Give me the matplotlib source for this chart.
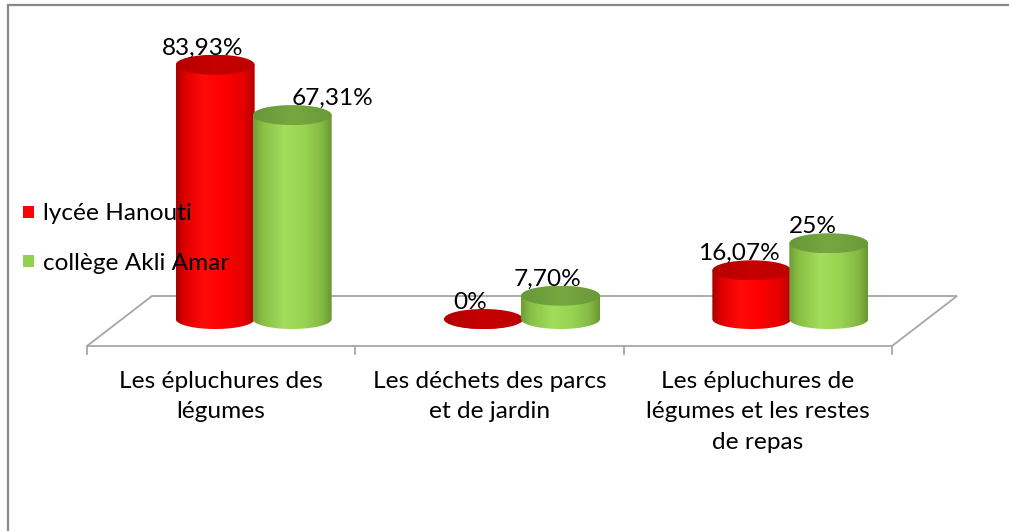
import numpy as np
import matplotlib
matplotlib.use("Agg")
import matplotlib.pyplot as plt
from matplotlib.patches import Ellipse, PathPatch, Polygon
from matplotlib.path import Path
from matplotlib.colors import LinearSegmentedColormap

# ---------------- data ----------------
categories = ["Les épluchures des\nlégumes",
              "Les déchets des parcs\net de jardin",
              "Les épluchures de\nlégumes et les restes\nde repas"]
series_names = ["lycée Hanouti", "collège Akli Amar"]
lycee = [83.93, 0.0, 16.07]
college = [67.31, 7.70, 25.0]
labels_lycee = ["83,93%", "0%", "16,07%"]
labels_college = ["67,31%", "7,70%", "25%"]

# ---------------- layout / style ----------------
W, H = 1009, 531
FONT = ["Lato", "DejaVu Sans"]
FS = 17.6
plt.rcParams['font.family'] = FONT

fig = plt.figure(figsize=(W / 100, H / 100), dpi=100)
ax = fig.add_axes([0, 0, 1, 1])
ax.set_xlim(0, W)
ax.set_ylim(H, 0)
ax.axis('off')

# chart frame (left and top edges visible)
ax.plot([7.5, 7.5, W + 5], [H + 5, 4.5, 4.5], color="#888888", lw=1.6,
        solid_joinstyle='miter', zorder=1)

# floor (oblique parallelogram)
fx0, fx1, fy_front = 87, 892, 346
shift_x, shift_y = 65, -50
floor = Polygon([[fx0, fy_front], [fx1, fy_front],
                 [fx1 + shift_x, fy_front + shift_y], [fx0 + shift_x, fy_front + shift_y]],
                closed=True, facecolor="white", edgecolor="#a6a6a6", lw=1.3, zorder=2)
ax.add_patch(floor)
ncat = len(categories)
step = (fx1 - fx0) / ncat
for k in range(ncat + 1):
    xt = fx0 + k * step
    ax.plot([xt, xt], [fy_front, fy_front + 8], color="#a6a6a6", lw=1.3, zorder=2)

# cylinder geometry
scale = 3.03          # pixels per percent
base_y = fy_front + shift_y / 2 - 2
rx, ry = 39.5, 10
half_gap = 38.5

red_body = LinearSegmentedColormap.from_list(
    "rb", [(0, "#a80000"), (0.12, "#e00000"), (0.35, "#ff0a0a"), (0.6, "#ff0000"),
           (0.85, "#e40000"), (1, "#b80000")])
green_body = LinearSegmentedColormap.from_list(
    "gb", [(0, "#6f9c35"), (0.12, "#88c046"), (0.4, "#a2dd5c"), (0.65, "#98d452"),
           (0.88, "#84b944"), (1, "#6a9632")])
red_top = LinearSegmentedColormap.from_list("rt", ["#b40000", "#c60000", "#bc0000"])
green_top = LinearSegmentedColormap.from_list("gt", ["#67973a", "#76a740", "#6a9a38"])

grad = np.linspace(0, 1, 256).reshape(1, -1)


def cylinder(cx, value, cmap_body, cmap_top, z):
    top_y = base_y - value * scale
    t = np.linspace(0, np.pi, 60)
    bx = cx + rx * np.cos(t)
    by = base_y + ry * np.sin(t)
    verts = [(cx + rx, top_y)] + list(zip(bx, by)) + [(cx - rx, top_y), (cx + rx, top_y)]
    codes = [Path.MOVETO] + [Path.LINETO] * (len(verts) - 2) + [Path.CLOSEPOLY]
    body = PathPatch(Path(verts, codes), facecolor="none", edgecolor="none", zorder=z)
    ax.add_patch(body)
    im = ax.imshow(grad, cmap=cmap_body, aspect='auto',
                   extent=(cx - rx, cx + rx, base_y + ry + 1, top_y - 1),
                   interpolation='bilinear', zorder=z)
    im.set_clip_path(body)
    top = Ellipse((cx, top_y), 2 * rx, 2 * ry, facecolor="none", edgecolor="none", zorder=z + 0.1)
    ax.add_patch(top)
    im2 = ax.imshow(grad, cmap=cmap_top, aspect='auto',
                    extent=(cx - rx, cx + rx, top_y + ry, top_y - ry),
                    interpolation='bilinear', zorder=z + 0.1)
    im2.set_clip_path(top)
    return top_y


label_dx_lycee = [-13, -13, -13]
label_dx_college = [40, -13, -16]

for i in range(ncat):
    g = fx0 + step * (i + 0.5) + shift_x / 2
    cr = g - half_gap
    cg = g + half_gap
    ty_r = cylinder(cr, lycee[i], red_body, red_top, 3 + i)
    ty_g = cylinder(cg, college[i], green_body, green_top, 3.5 + i)
    ax.text(cr + label_dx_lycee[i], ty_r - ry, labels_lycee[i], ha='center', va='baseline',
            fontsize=FS, color="black", zorder=10)
    ax.text(cg + label_dx_college[i], ty_g - ry, labels_college[i], ha='center', va='baseline',
            fontsize=FS, color="black", zorder=10)
    # category label
    ax.text(fx0 + step * (i + 0.5), 371, categories[i], ha='center', va='top',
            fontsize=FS, linespacing=1.55, color="black", zorder=10)

# legend
leg_colors = ["#ff0000", "#92d050"]
leg_y = [212, 261]
for name, col, ly in zip(series_names, leg_colors, leg_y):
    ax.add_patch(Polygon([[23, ly - 6], [34, ly - 6], [34, ly + 6], [23, ly + 6]],
                         closed=True, facecolor=col, edgecolor="none", zorder=20))
    ax.text(43, ly, name, ha='left', va='center_baseline', fontsize=FS, color="black", zorder=20)

fig.savefig("out.png", dpi=100)
